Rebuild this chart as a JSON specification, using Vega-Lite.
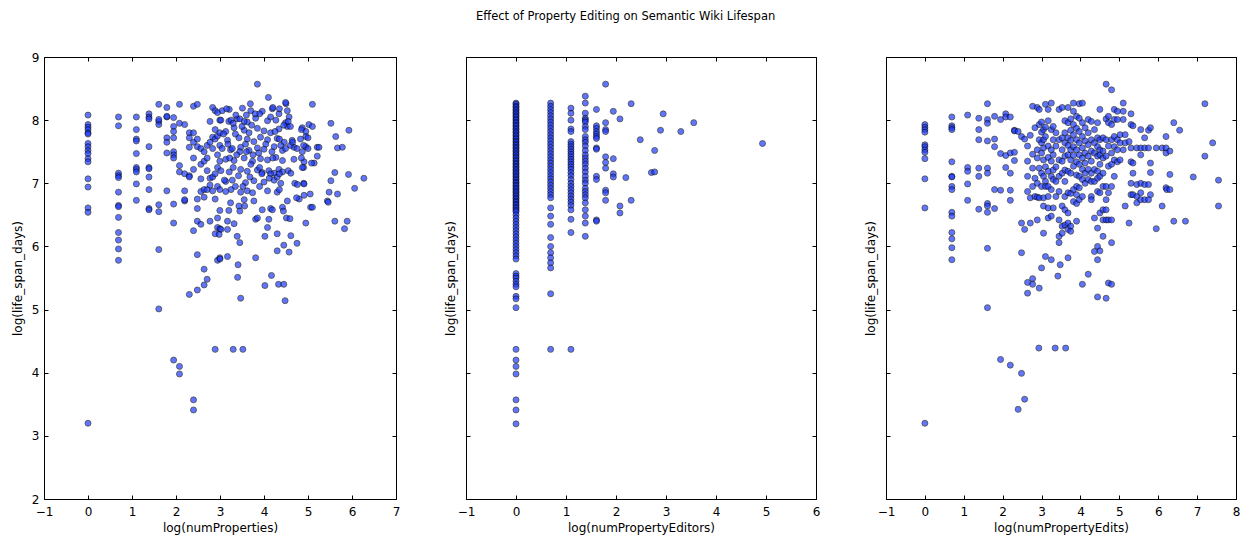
{
  "$schema": "https://vega.github.io/schema/vega-lite/v6.json",
  "background": "white",
  "padding": {"left": 10, "top": 11, "right": 8, "bottom": 5},
  "title": {"text": "Effect of Property Editing on Semantic Wiki Lifespan", "font": "DejaVu Sans", "fontSize": 11.5, "fontWeight": "normal", "color": "#000", "anchor": "middle", "offset": 28},
  "config": {
    "view": {"stroke": "#000", "strokeWidth": 1},
    "axis": {"labelFont": "DejaVu Sans", "labelFontSize": 12, "labelColor": "#000", "titleFont": "DejaVu Sans", "titleFontSize": 12, "titleFontWeight": "normal", "titleColor": "#000", "domain": false, "grid": false, "tickColor": "#000", "tickSize": -4, "tickWidth": 1, "labelPadding": 9, "labelFlush": false, "labelOverlap": false, "labelBound": false},
    "axisX": {"labelPadding": 11}
  },
  "datasets": {
    "p1": [
      {"x":0,"y":8.08},{"x":0,"y":7.93},{"x":0,"y":7.89},{"x":0,"y":7.85},{"x":0,"y":7.8},{"x":0,"y":7.78},{"x":0,"y":7.63},{"x":0,"y":7.58},{"x":0,"y":7.52},{"x":0,"y":7.47},{"x":0,"y":7.39},{"x":0,"y":7.34},{"x":0,"y":7.07},{"x":0,"y":6.94},{"x":0,"y":6.61},{"x":0,"y":6.54},{"x":0,"y":3.2},
      {"x":0.693,"y":8.05},{"x":0.693,"y":7.91},{"x":0.693,"y":7.16},{"x":0.693,"y":7.12},{"x":0.693,"y":7.09},{"x":0.693,"y":6.86},{"x":0.693,"y":6.65},{"x":0.693,"y":6.63},{"x":0.693,"y":6.46},{"x":0.693,"y":6.22},{"x":0.693,"y":6.1},{"x":0.693,"y":5.96},{"x":0.693,"y":5.78},
      {"x":1.099,"y":8.05},{"x":1.099,"y":7.85},{"x":1.099,"y":7.7},{"x":1.099,"y":7.67},{"x":1.099,"y":7.47},{"x":1.099,"y":7.25},{"x":1.099,"y":7.22},{"x":1.099,"y":7.18},{"x":1.099,"y":6.99},{"x":1.099,"y":6.73},
      {"x":1.386,"y":8.1},{"x":1.386,"y":8.05},{"x":1.386,"y":8.02},{"x":1.386,"y":7.58},{"x":1.386,"y":7.25},{"x":1.386,"y":7.23},{"x":1.386,"y":7.1},{"x":1.386,"y":6.9},{"x":1.386,"y":6.6},{"x":1.386,"y":6.58},
      {"x":1.609,"y":8.25},{"x":1.609,"y":7.98},{"x":1.609,"y":7.93},{"x":1.609,"y":8.01},{"x":1.609,"y":6.66},{"x":1.609,"y":6.55},{"x":1.609,"y":5.95},{"x":1.609,"y":5.01},
      {"x":1.792,"y":8.2},{"x":1.792,"y":8.05},{"x":1.792,"y":8.06},{"x":1.792,"y":7.72},{"x":1.792,"y":7.65},{"x":1.792,"y":7.48},{"x":1.792,"y":6.88},
      {"x":1.946,"y":8.04},{"x":1.946,"y":7.9},{"x":1.946,"y":7.82},{"x":1.946,"y":7.72},{"x":1.946,"y":7.5},{"x":1.946,"y":7.45},{"x":1.946,"y":7.4},{"x":1.946,"y":6.67},{"x":1.946,"y":6.37},{"x":1.946,"y":4.2},
      {"x":2.079,"y":8.25},{"x":2.079,"y":7.95},{"x":2.079,"y":7.28},{"x":2.079,"y":7.18},{"x":2.079,"y":4.1},{"x":2.079,"y":3.98},
      {"x":2.197,"y":7.93},{"x":2.197,"y":7.15},{"x":2.197,"y":6.88},{"x":2.197,"y":6.72},{"x":2.197,"y":6.74},
      {"x":2.303,"y":7.8},{"x":2.303,"y":7.72},{"x":2.303,"y":7.57},{"x":2.303,"y":7.12},{"x":2.303,"y":7.1},{"x":2.303,"y":5.24},
      {"x":2.398,"y":8.22},{"x":2.398,"y":7.8},{"x":2.398,"y":7.65},{"x":2.398,"y":7.4},{"x":2.398,"y":7.22},{"x":2.398,"y":6.25},{"x":2.398,"y":3.57},{"x":2.398,"y":3.41},
      {"x":2.485,"y":8.25},{"x":2.485,"y":7.7},{"x":2.485,"y":7.58},{"x":2.485,"y":6.75},{"x":2.485,"y":6.6},{"x":2.485,"y":6.4},{"x":2.485,"y":5.87},{"x":2.485,"y":5.31},
      {"x":2.565,"y":7.55},{"x":2.565,"y":7.3},{"x":2.565,"y":7.07},{"x":2.565,"y":6.87},{"x":2.565,"y":6.35},
      {"x":2.639,"y":7.5},{"x":2.639,"y":7.35},{"x":2.639,"y":6.9},{"x":2.639,"y":6.78},{"x":2.639,"y":5.64},{"x":2.639,"y":5.39},
      {"x":2.708,"y":7.6},{"x":2.708,"y":7.4},{"x":2.708,"y":7.2},{"x":2.708,"y":6.9},{"x":2.708,"y":5.48},
      {"x":2.773,"y":7.98},{"x":2.773,"y":7.65},{"x":2.773,"y":7.08},{"x":2.773,"y":6.97},{"x":2.773,"y":6.4},
      {"x":2.833,"y":8.2},{"x":2.833,"y":7.73},{"x":2.833,"y":7.55},{"x":2.833,"y":7.1},{"x":2.833,"y":6.88},
      {"x":2.89,"y":8.15},{"x":2.89,"y":7.85},{"x":2.89,"y":7.7},{"x":2.89,"y":7.15},{"x":2.89,"y":6.75},{"x":2.89,"y":6.2},{"x":2.89,"y":4.37},
      {"x":2.944,"y":8.12},{"x":2.944,"y":7.75},{"x":2.944,"y":7.45},{"x":2.944,"y":7.25},{"x":2.944,"y":6.95},{"x":2.944,"y":6.45},{"x":2.944,"y":6.3},{"x":2.944,"y":5.78},
      {"x":2.996,"y":8.0},{"x":2.996,"y":7.8},{"x":2.996,"y":7.6},{"x":2.996,"y":7.35},{"x":2.996,"y":6.9},{"x":2.996,"y":6.57},{"x":2.996,"y":6.28},{"x":2.996,"y":5.82},
      {"x":3.05,"y":8.15},{"x":3.21,"y":8.17},{"x":3.51,"y":8.19},{"x":3.7,"y":8.15},{"x":3.96,"y":8.14},{"x":4.19,"y":8.18},{"x":4.34,"y":8.1},{"x":4.53,"y":8.15},
      {"x":3.02,"y":8.0},{"x":3.2,"y":7.98},{"x":3.39,"y":8.02},{"x":3.62,"y":7.97},{"x":3.81,"y":8.03},{"x":4.08,"y":7.99},{"x":4.27,"y":8.0},{"x":4.49,"y":7.96},{"x":4.57,"y":8.05},{"x":4.87,"y":7.88},{"x":5.02,"y":7.93},
      {"x":3.13,"y":7.82},{"x":3.32,"y":7.88},{"x":3.55,"y":7.84},{"x":3.66,"y":7.8},{"x":3.85,"y":7.87},{"x":4.0,"y":7.83},{"x":4.15,"y":7.8},{"x":4.34,"y":7.86},{"x":4.53,"y":7.9},{"x":4.95,"y":7.82},
      {"x":3.17,"y":7.68},{"x":3.43,"y":7.72},{"x":3.62,"y":7.7},{"x":3.77,"y":7.66},{"x":3.92,"y":7.73},{"x":4.08,"y":7.69},{"x":4.3,"y":7.71},{"x":4.46,"y":7.65},{"x":4.64,"y":7.68},{"x":4.83,"y":7.7},{"x":4.95,"y":7.74},{"x":5.21,"y":7.57},
      {"x":3.05,"y":7.55},{"x":3.24,"y":7.53},{"x":3.47,"y":7.57},{"x":3.66,"y":7.52},{"x":3.85,"y":7.56},{"x":4.0,"y":7.54},{"x":4.23,"y":7.58},{"x":4.42,"y":7.52},{"x":4.49,"y":7.55},{"x":4.68,"y":7.57},{"x":4.87,"y":7.5},{"x":4.95,"y":7.58},
      {"x":3.13,"y":7.38},{"x":3.32,"y":7.36},{"x":3.55,"y":7.4},{"x":3.74,"y":7.35},{"x":3.92,"y":7.39},{"x":4.08,"y":7.37},{"x":4.27,"y":7.41},{"x":4.42,"y":7.36},{"x":4.68,"y":7.38},{"x":4.91,"y":7.34},{"x":5.14,"y":7.32},
      {"x":3.02,"y":7.2},{"x":3.21,"y":7.18},{"x":3.47,"y":7.22},{"x":3.62,"y":7.19},{"x":3.85,"y":7.21},{"x":3.96,"y":7.17},{"x":4.11,"y":7.2},{"x":4.23,"y":7.16},{"x":4.34,"y":7.22},{"x":4.42,"y":7.18},
      {"x":3.13,"y":7.03},{"x":3.28,"y":7.05},{"x":3.58,"y":7.01},{"x":3.77,"y":7.04},{"x":4.0,"y":7.02},{"x":4.23,"y":7.05},{"x":4.38,"y":7.0},
      {"x":3.13,"y":6.87},{"x":3.47,"y":6.86},{"x":3.62,"y":6.88},{"x":3.74,"y":6.85},{"x":4.08,"y":6.88},{"x":4.3,"y":6.86},
      {"x":3.15,"y":8.18},{"x":3.25,"y":8.0},{"x":3.3,"y":7.95},{"x":3.35,"y":7.78},{"x":3.28,"y":7.55},{"x":3.22,"y":7.4},{"x":3.1,"y":7.05},{"x":3.25,"y":6.9},{"x":3.35,"y":6.95},{"x":3.45,"y":7.5},{"x":3.5,"y":7.9},{"x":3.45,"y":8.02},{"x":3.55,"y":7.98},{"x":3.6,"y":7.5},{"x":3.7,"y":7.3},{"x":3.75,"y":7.45},{"x":3.9,"y":7.25},{"x":3.95,"y":7.15},{"x":3.9,"y":8.1},{"x":3.8,"y":8.1},{"x":4.15,"y":8.05},{"x":4.2,"y":8.2},{"x":4.25,"y":7.82},{"x":4.2,"y":7.4},{"x":4.35,"y":7.7},{"x":4.15,"y":7.15},{"x":4.3,"y":7.1},{"x":4.35,"y":7.15},{"x":4.15,"y":6.6},{"x":4.35,"y":6.9},{"x":4.3,"y":6.2},{"x":4.55,"y":7.2},{"x":4.6,"y":7.6},{"x":4.65,"y":7.65},{"x":4.45,"y":7.92},{"x":4.5,"y":8.26},{"x":4.55,"y":7.98},{"x":4.35,"y":8.18},{"x":4.6,"y":7.9},{"x":4.7,"y":7.0},{"x":4.8,"y":6.75},{"x":4.9,"y":7.0},{"x":4.75,"y":7.55},{"x":4.85,"y":7.4},{"x":4.9,"y":7.25},{"x":5.0,"y":7.55},{"x":4.9,"y":7.6},
      {"x":3.08,"y":7.78},{"x":3.18,"y":7.62},{"x":3.38,"y":7.45},{"x":3.58,"y":7.62},{"x":3.72,"y":7.92},{"x":3.88,"y":7.48},{"x":4.04,"y":7.62},{"x":4.18,"y":7.5},{"x":4.38,"y":7.6},{"x":3.42,"y":7.12},{"x":3.68,"y":7.1},{"x":3.3,"y":7.25},{"x":3.52,"y":6.95},{"x":3.9,"y":6.95},{"x":4.12,"y":7.08},{"x":3.36,"y":8.08},{"x":3.6,"y":8.08},
      {"x":3.85,"y":8.57},{"x":4.1,"y":8.36},{"x":4.49,"y":8.28},{"x":5.1,"y":8.25},{"x":3.69,"y":8.26},{"x":5.52,"y":7.95},{"x":5.93,"y":7.84},{"x":5.63,"y":7.74},{"x":5.67,"y":7.56},{"x":5.78,"y":7.57},{"x":5.21,"y":7.43},{"x":5.08,"y":7.32},{"x":4.87,"y":7.25},{"x":4.61,"y":7.16},{"x":5.61,"y":7.17},{"x":5.92,"y":7.14},{"x":6.27,"y":7.08},{"x":5.52,"y":7.04},{"x":6.06,"y":6.92},{"x":5.48,"y":6.86},{"x":5.67,"y":6.83},{"x":5.44,"y":6.72},{"x":5.46,"y":6.7},{"x":5.06,"y":6.62},{"x":5.1,"y":6.62},{"x":4.76,"y":6.98},{"x":4.91,"y":6.99},{"x":4.74,"y":6.77},{"x":4.91,"y":6.81},{"x":5.05,"y":6.83},{"x":4.53,"y":6.72},{"x":4.42,"y":6.62},{"x":4.44,"y":6.56},{"x":4.51,"y":6.45},{"x":4.59,"y":6.44},{"x":4.95,"y":6.37},{"x":5.61,"y":6.4},{"x":5.89,"y":6.4},{"x":5.83,"y":6.28},{"x":4.61,"y":6.17},{"x":4.45,"y":6.02},{"x":4.3,"y":5.93},{"x":4.57,"y":5.91},{"x":3.81,"y":5.82},{"x":4.02,"y":6.16},{"x":4.08,"y":6.3},{"x":3.81,"y":6.43},{"x":3.85,"y":6.45},{"x":4.11,"y":6.43},{"x":3.96,"y":6.58},{"x":4.19,"y":6.58},{"x":3.55,"y":6.74},{"x":3.77,"y":6.72},{"x":3.56,"y":6.64},{"x":3.24,"y":6.69},{"x":3.43,"y":6.64},{"x":3.2,"y":6.57},{"x":3.45,"y":6.56},{"x":3.17,"y":6.4},{"x":3.32,"y":6.36},{"x":3.02,"y":6.27},{"x":3.17,"y":6.27},{"x":2.98,"y":6.19},{"x":3.39,"y":6.16},{"x":3.45,"y":6.06},{"x":3.17,"y":5.84},{"x":3.0,"y":5.8},{"x":3.3,"y":4.37},{"x":3.41,"y":5.71},{"x":3.4,"y":5.51},{"x":3.47,"y":5.18},{"x":3.52,"y":4.37},{"x":4.02,"y":5.38},{"x":4.17,"y":5.54},{"x":4.33,"y":5.4},{"x":4.45,"y":5.4},{"x":4.48,"y":5.14},{"x":4.75,"y":6.05},{"x":5.1,"y":7.9},{"x":5.0,"y":7.72},{"x":4.85,"y":7.85},{"x":5.25,"y":7.57}
    ],
    "p2": [
      {"x":0,"y":8.27},{"x":0,"y":8.25},{"x":0,"y":8.22},{"x":0,"y":8.2},{"x":0,"y":8.17},{"x":0,"y":8.15},{"x":0,"y":8.12},{"x":0,"y":8.1},{"x":0,"y":8.07},{"x":0,"y":8.05},{"x":0,"y":8.02},{"x":0,"y":8.0},{"x":0,"y":7.97},{"x":0,"y":7.95},{"x":0,"y":7.92},{"x":0,"y":7.9},{"x":0,"y":7.87},{"x":0,"y":7.85},{"x":0,"y":7.82},{"x":0,"y":7.8},{"x":0,"y":7.77},{"x":0,"y":7.75},{"x":0,"y":7.72},{"x":0,"y":7.7},{"x":0,"y":7.67},{"x":0,"y":7.65},{"x":0,"y":7.62},{"x":0,"y":7.6},{"x":0,"y":7.57},{"x":0,"y":7.55},{"x":0,"y":7.52},{"x":0,"y":7.5},{"x":0,"y":7.47},{"x":0,"y":7.45},{"x":0,"y":7.42},{"x":0,"y":7.4},{"x":0,"y":7.37},{"x":0,"y":7.35},{"x":0,"y":7.32},{"x":0,"y":7.3},{"x":0,"y":7.27},{"x":0,"y":7.25},{"x":0,"y":7.22},{"x":0,"y":7.2},{"x":0,"y":7.17},{"x":0,"y":7.15},{"x":0,"y":7.12},{"x":0,"y":7.1},{"x":0,"y":7.07},{"x":0,"y":7.05},{"x":0,"y":7.02},{"x":0,"y":7.0},{"x":0,"y":6.97},{"x":0,"y":6.95},{"x":0,"y":6.92},{"x":0,"y":6.9},{"x":0,"y":6.87},{"x":0,"y":6.85},{"x":0,"y":6.82},{"x":0,"y":6.8},{"x":0,"y":6.77},{"x":0,"y":6.75},{"x":0,"y":6.72},{"x":0,"y":6.7},{"x":0,"y":6.67},{"x":0,"y":6.65},{"x":0,"y":6.62},{"x":0,"y":6.6},{"x":0,"y":6.57},{"x":0,"y":6.55},{"x":0,"y":6.5},{"x":0,"y":6.45},{"x":0,"y":6.4},{"x":0,"y":6.35},{"x":0,"y":6.3},{"x":0,"y":6.25},{"x":0,"y":6.2},{"x":0,"y":6.15},{"x":0,"y":6.1},{"x":0,"y":6.05},{"x":0,"y":6.0},{"x":0,"y":5.95},{"x":0,"y":5.9},{"x":0,"y":5.85},{"x":0,"y":5.8},{"x":0,"y":5.57},{"x":0,"y":5.53},{"x":0,"y":5.5},{"x":0,"y":5.45},{"x":0,"y":5.4},{"x":0,"y":5.36},{"x":0,"y":5.21},{"x":0,"y":5.17},{"x":0,"y":5.03},{"x":0,"y":4.37},{"x":0,"y":4.2},{"x":0,"y":4.1},{"x":0,"y":3.98},{"x":0,"y":3.57},{"x":0,"y":3.41},{"x":0,"y":3.19},
      {"x":0.693,"y":8.27},{"x":0.693,"y":8.22},{"x":0.693,"y":8.17},{"x":0.693,"y":8.12},{"x":0.693,"y":8.07},{"x":0.693,"y":8.02},{"x":0.693,"y":7.97},{"x":0.693,"y":7.92},{"x":0.693,"y":7.87},{"x":0.693,"y":7.82},{"x":0.693,"y":7.77},{"x":0.693,"y":7.72},{"x":0.693,"y":7.67},{"x":0.693,"y":7.62},{"x":0.693,"y":7.57},{"x":0.693,"y":7.52},{"x":0.693,"y":7.47},{"x":0.693,"y":7.42},{"x":0.693,"y":7.37},{"x":0.693,"y":7.32},{"x":0.693,"y":7.27},{"x":0.693,"y":7.22},{"x":0.693,"y":7.17},{"x":0.693,"y":7.12},{"x":0.693,"y":7.07},{"x":0.693,"y":7.02},{"x":0.693,"y":6.97},{"x":0.693,"y":6.92},{"x":0.693,"y":6.87},{"x":0.693,"y":6.82},{"x":0.693,"y":6.77},{"x":0.693,"y":6.61},{"x":0.693,"y":6.48},{"x":0.693,"y":6.35},{"x":0.693,"y":6.14},{"x":0.693,"y":6.0},{"x":0.693,"y":5.9},{"x":0.693,"y":5.82},{"x":0.693,"y":5.74},{"x":0.693,"y":5.66},{"x":0.693,"y":5.25},{"x":0.693,"y":4.37},
      {"x":1.099,"y":8.19},{"x":1.099,"y":8.11},{"x":1.099,"y":8.0},{"x":1.099,"y":7.86},{"x":1.099,"y":7.82},{"x":1.099,"y":7.66},{"x":1.099,"y":7.62},{"x":1.099,"y":7.58},{"x":1.099,"y":7.54},{"x":1.099,"y":7.5},{"x":1.099,"y":7.46},{"x":1.099,"y":7.42},{"x":1.099,"y":7.38},{"x":1.099,"y":7.34},{"x":1.099,"y":7.3},{"x":1.099,"y":7.26},{"x":1.099,"y":7.22},{"x":1.099,"y":7.17},{"x":1.099,"y":7.12},{"x":1.099,"y":7.06},{"x":1.099,"y":7.0},{"x":1.099,"y":6.95},{"x":1.099,"y":6.9},{"x":1.099,"y":6.85},{"x":1.099,"y":6.8},{"x":1.099,"y":6.75},{"x":1.099,"y":6.7},{"x":1.099,"y":6.65},{"x":1.099,"y":6.58},{"x":1.099,"y":6.43},{"x":1.099,"y":6.22},{"x":1.099,"y":4.37},
      {"x":1.386,"y":8.38},{"x":1.386,"y":8.27},{"x":1.386,"y":8.11},{"x":1.386,"y":8.03},{"x":1.386,"y":8.0},{"x":1.386,"y":7.97},{"x":1.386,"y":7.9},{"x":1.386,"y":7.85},{"x":1.386,"y":7.74},{"x":1.386,"y":7.69},{"x":1.386,"y":7.65},{"x":1.386,"y":7.59},{"x":1.386,"y":7.52},{"x":1.386,"y":7.45},{"x":1.386,"y":7.4},{"x":1.386,"y":7.35},{"x":1.386,"y":7.3},{"x":1.386,"y":7.24},{"x":1.386,"y":7.18},{"x":1.386,"y":7.11},{"x":1.386,"y":7.05},{"x":1.386,"y":7.0},{"x":1.386,"y":6.92},{"x":1.386,"y":6.87},{"x":1.386,"y":6.82},{"x":1.386,"y":6.77},{"x":1.386,"y":6.69},{"x":1.386,"y":6.58},{"x":1.386,"y":6.48},{"x":1.386,"y":6.37},{"x":1.386,"y":6.16},
      {"x":1.609,"y":8.17},{"x":1.609,"y":7.91},{"x":1.609,"y":7.87},{"x":1.609,"y":7.82},{"x":1.609,"y":7.78},{"x":1.609,"y":7.74},{"x":1.609,"y":7.71},{"x":1.609,"y":7.56},{"x":1.609,"y":7.54},{"x":1.609,"y":7.11},{"x":1.609,"y":7.06},{"x":1.609,"y":6.42},{"x":1.609,"y":6.4},
      {"x":1.792,"y":8.57},{"x":1.792,"y":7.96},{"x":1.792,"y":7.85},{"x":1.792,"y":7.82},{"x":1.792,"y":7.42},{"x":1.792,"y":7.33},{"x":1.792,"y":7.24},{"x":1.792,"y":6.89},{"x":1.792,"y":6.85},{"x":1.792,"y":6.73},
      {"x":1.946,"y":8.14},{"x":1.946,"y":7.39},{"x":1.946,"y":7.15},{"x":1.946,"y":7.1},
      {"x":2.079,"y":8.02},{"x":2.079,"y":6.64},{"x":2.079,"y":6.53},
      {"x":2.197,"y":7.09},{"x":2.303,"y":8.26},{"x":2.303,"y":6.73},{"x":2.485,"y":7.69},{"x":2.708,"y":7.17},{"x":2.773,"y":7.52},{"x":2.773,"y":7.18},{"x":2.89,"y":7.84},{"x":2.944,"y":8.1},{"x":3.296,"y":7.82},{"x":3.555,"y":7.96},{"x":4.93,"y":7.63}
    ],
    "p3": [
      {"x":0,"y":7.93},{"x":0,"y":7.89},{"x":0,"y":7.85},{"x":0,"y":7.81},{"x":0,"y":7.61},{"x":0,"y":7.58},{"x":0,"y":7.53},{"x":0,"y":7.49},{"x":0,"y":7.39},{"x":0,"y":7.07},{"x":0,"y":6.61},{"x":0,"y":3.2},
      {"x":0.693,"y":8.05},{"x":0.693,"y":7.91},{"x":0.693,"y":7.88},{"x":0.693,"y":7.85},{"x":0.693,"y":7.34},{"x":0.693,"y":7.11},{"x":0.693,"y":7.1},{"x":0.693,"y":6.95},{"x":0.693,"y":6.9},{"x":0.693,"y":6.54},{"x":0.693,"y":6.48},{"x":0.693,"y":6.22},{"x":0.693,"y":6.12},{"x":0.693,"y":5.98},{"x":0.693,"y":5.79},
      {"x":1.099,"y":8.08},{"x":1.099,"y":7.25},{"x":1.099,"y":7.19},{"x":1.099,"y":6.99},{"x":1.099,"y":6.73},
      {"x":1.386,"y":8.03},{"x":1.386,"y":7.85},{"x":1.386,"y":7.69},{"x":1.386,"y":7.24},{"x":1.386,"y":7.11},{"x":1.386,"y":6.59},
      {"x":1.609,"y":8.26},{"x":1.609,"y":8.01},{"x":1.609,"y":7.95},{"x":1.609,"y":7.67},{"x":1.609,"y":7.24},{"x":1.609,"y":7.16},{"x":1.609,"y":6.68},{"x":1.609,"y":6.64},{"x":1.609,"y":6.54},{"x":1.609,"y":5.97},{"x":1.609,"y":5.03},
      {"x":1.792,"y":8.06},{"x":1.792,"y":7.7},{"x":1.792,"y":7.58},{"x":1.792,"y":6.9},{"x":1.792,"y":6.6},
      {"x":1.946,"y":8.01},{"x":1.946,"y":7.47},{"x":1.946,"y":6.89},{"x":1.946,"y":4.21},
      {"x":2.079,"y":8.1},{"x":2.079,"y":8.05},{"x":2.079,"y":7.44},{"x":2.079,"y":7.25},
      {"x":2.197,"y":8.05},{"x":2.197,"y":7.48},{"x":2.197,"y":7.16},{"x":2.197,"y":6.89},{"x":2.197,"y":6.73},{"x":2.197,"y":4.12},
      {"x":2.303,"y":7.84},{"x":2.303,"y":7.83},{"x":2.303,"y":7.49},{"x":2.303,"y":7.36},
      {"x":2.398,"y":7.82},{"x":2.398,"y":3.42},
      {"x":2.485,"y":7.74},{"x":2.485,"y":6.37},{"x":2.485,"y":5.9},{"x":2.485,"y":3.99},
      {"x":2.565,"y":7.7},{"x":2.565,"y":6.27},{"x":2.565,"y":3.58},
      {"x":2.64,"y":7.59},{"x":2.64,"y":7.35},{"x":2.64,"y":7.11},{"x":2.64,"y":6.87},{"x":2.64,"y":5.43},{"x":2.64,"y":5.26},
      {"x":2.71,"y":7.76},{"x":2.71,"y":6.77},{"x":2.71,"y":6.37},
      {"x":2.77,"y":8.22},{"x":2.77,"y":7.46},{"x":2.77,"y":7.24},{"x":2.77,"y":6.95},{"x":2.77,"y":5.49},{"x":2.77,"y":5.4},
      {"x":2.83,"y":7.88},{"x":2.83,"y":7.08},{"x":2.83,"y":6.79},
      {"x":2.89,"y":8.2},{"x":2.89,"y":7.53},{"x":2.89,"y":7.4},{"x":2.89,"y":7.0},{"x":2.89,"y":6.78},{"x":2.89,"y":6.42},{"x":2.93,"y":4.39},
      {"x":2.94,"y":8.17},{"x":2.94,"y":7.93},{"x":2.94,"y":7.69},{"x":2.94,"y":7.24},{"x":2.94,"y":6.77},{"x":2.94,"y":5.34},
      {"x":3.0,"y":7.97},{"x":3.0,"y":7.81},{"x":3.0,"y":7.64},{"x":3.0,"y":7.48},{"x":3.0,"y":7.16},{"x":3.0,"y":6.95},{"x":3.0,"y":5.66},
      {"x":3.05,"y":7.85},{"x":3.05,"y":7.69},{"x":3.05,"y":7.56},{"x":3.05,"y":7.37},{"x":3.05,"y":7.11},{"x":3.05,"y":6.77},{"x":3.05,"y":6.64},{"x":3.05,"y":6.21},
      {"x":3.1,"y":8.25},{"x":3.1,"y":7.89},{"x":3.1,"y":7.74},{"x":3.1,"y":7.26},{"x":3.1,"y":7.03},{"x":3.1,"y":6.95},{"x":3.1,"y":5.84},
      {"x":3.17,"y":8.17},{"x":3.17,"y":7.99},{"x":3.17,"y":7.59},{"x":3.17,"y":7.41},{"x":3.17,"y":7.19},{"x":3.17,"y":6.95},{"x":3.17,"y":6.79},{"x":3.17,"y":6.61},{"x":3.17,"y":6.45},
      {"x":3.25,"y":8.27},{"x":3.25,"y":7.85},{"x":3.25,"y":7.53},{"x":3.25,"y":7.35},{"x":3.25,"y":7.11},{"x":3.25,"y":6.9},{"x":3.25,"y":6.48},{"x":3.25,"y":5.79},
      {"x":3.3,"y":7.9},{"x":3.3,"y":7.69},{"x":3.3,"y":7.45},{"x":3.3,"y":7.21},{"x":3.3,"y":7.06},{"x":3.3,"y":6.61},{"x":3.35,"y":4.39},
      {"x":3.37,"y":7.8},{"x":3.37,"y":7.59},{"x":3.37,"y":7.26},{"x":3.37,"y":7.03},{"x":3.37,"y":6.79},{"x":3.42,"y":5.53},
      {"x":3.45,"y":8.17},{"x":3.45,"y":7.69},{"x":3.45,"y":7.37},{"x":3.45,"y":7.11},{"x":3.45,"y":6.87},{"x":3.45,"y":6.42},{"x":3.45,"y":6.16},{"x":3.45,"y":6.06},{"x":3.48,"y":5.71},
      {"x":3.53,"y":8.2},{"x":3.53,"y":7.72},{"x":3.53,"y":7.53},{"x":3.53,"y":7.35},{"x":3.53,"y":7.16},{"x":3.53,"y":6.64},{"x":3.53,"y":6.32},{"x":3.53,"y":6.21},
      {"x":3.6,"y":7.99},{"x":3.6,"y":7.8},{"x":3.6,"y":7.64},{"x":3.6,"y":7.43},{"x":3.6,"y":7.21},{"x":3.6,"y":7.03},{"x":3.6,"y":6.79},{"x":3.6,"y":6.58},{"x":3.6,"y":6.34},{"x":3.62,"y":4.39},
      {"x":3.68,"y":8.2},{"x":3.68,"y":7.96},{"x":3.68,"y":7.72},{"x":3.68,"y":7.6},{"x":3.68,"y":7.45},{"x":3.68,"y":7.19},{"x":3.68,"y":6.85},{"x":3.68,"y":6.53},{"x":3.68,"y":6.37},{"x":3.68,"y":6.27},{"x":3.68,"y":5.82},
      {"x":3.75,"y":8.02},{"x":3.75,"y":7.84},{"x":3.75,"y":7.68},{"x":3.75,"y":7.53},{"x":3.75,"y":7.37},{"x":3.75,"y":7.16},{"x":3.75,"y":6.84},{"x":3.75,"y":6.32},{"x":3.75,"y":6.24},
      {"x":3.82,"y":8.27},{"x":3.82,"y":8.14},{"x":3.82,"y":7.93},{"x":3.82,"y":7.77},{"x":3.82,"y":7.58},{"x":3.82,"y":7.44},{"x":3.82,"y":7.27},{"x":3.82,"y":6.9},{"x":3.82,"y":6.71},
      {"x":3.9,"y":8.06},{"x":3.9,"y":7.87},{"x":3.9,"y":7.69},{"x":3.9,"y":7.53},{"x":3.9,"y":7.34},{"x":3.9,"y":7.13},{"x":3.9,"y":6.95},{"x":3.9,"y":6.82},{"x":3.9,"y":6.68},{"x":3.9,"y":6.4},
      {"x":3.97,"y":8.26},{"x":3.97,"y":8.03},{"x":3.97,"y":7.82},{"x":3.97,"y":7.64},{"x":3.97,"y":7.45},{"x":3.97,"y":7.3},{"x":3.97,"y":7.11},{"x":3.97,"y":6.93},{"x":3.97,"y":6.74},
      {"x":4.05,"y":8.27},{"x":4.05,"y":7.96},{"x":4.05,"y":7.74},{"x":4.05,"y":7.56},{"x":4.05,"y":7.4},{"x":4.05,"y":7.22},{"x":4.05,"y":7.06},{"x":4.05,"y":6.79},{"x":4.05,"y":5.4},
      {"x":4.12,"y":7.88},{"x":4.12,"y":7.67},{"x":4.12,"y":7.48},{"x":4.12,"y":7.32},{"x":4.12,"y":7.16},{"x":4.12,"y":7.0},
      {"x":4.2,"y":8.01},{"x":4.2,"y":7.8},{"x":4.2,"y":7.61},{"x":4.2,"y":7.43},{"x":4.2,"y":7.22},{"x":4.2,"y":7.06},{"x":4.2,"y":5.56},
      {"x":4.28,"y":7.98},{"x":4.28,"y":7.69},{"x":4.28,"y":7.51},{"x":4.28,"y":7.35},{"x":4.28,"y":7.16},{"x":4.28,"y":7.03},{"x":4.28,"y":6.79},{"x":4.28,"y":6.74},
      {"x":4.36,"y":7.85},{"x":4.36,"y":7.64},{"x":4.36,"y":7.48},{"x":4.36,"y":7.22},{"x":4.36,"y":7.03},{"x":4.36,"y":6.45},{"x":4.36,"y":5.92},
      {"x":4.44,"y":7.96},{"x":4.44,"y":7.72},{"x":4.44,"y":7.58},{"x":4.44,"y":7.43},{"x":4.44,"y":7.19},{"x":4.44,"y":7.08},{"x":4.44,"y":6.87},{"x":4.44,"y":6.29},{"x":4.44,"y":6.0},{"x":4.44,"y":5.79},{"x":4.44,"y":5.2},
      {"x":4.5,"y":8.17},{"x":4.5,"y":7.69},{"x":4.5,"y":7.53},{"x":4.5,"y":7.45},{"x":4.5,"y":7.3},{"x":4.5,"y":7.11},{"x":4.5,"y":6.85},{"x":4.5,"y":6.53},{"x":4.5,"y":5.93},
      {"x":4.58,"y":7.72},{"x":4.58,"y":7.51},{"x":4.58,"y":7.4},{"x":4.58,"y":7.16},{"x":4.58,"y":6.95},{"x":4.58,"y":6.58},{"x":4.58,"y":6.42},{"x":4.58,"y":6.16},
      {"x":4.66,"y":8.57},{"x":4.66,"y":8.02},{"x":4.66,"y":7.69},{"x":4.66,"y":7.43},{"x":4.66,"y":6.95},{"x":4.66,"y":6.74},{"x":4.66,"y":6.58},{"x":4.66,"y":6.42},{"x":4.66,"y":5.18},
      {"x":4.72,"y":8.06},{"x":4.72,"y":7.96},{"x":4.72,"y":7.59},{"x":4.72,"y":7.27},{"x":4.72,"y":6.85},{"x":4.72,"y":6.42},{"x":4.72,"y":5.42},
      {"x":4.8,"y":8.48},{"x":4.8,"y":7.93},{"x":4.8,"y":7.69},{"x":4.8,"y":7.48},{"x":4.8,"y":7.3},{"x":4.8,"y":6.95},{"x":4.8,"y":6.42},{"x":4.8,"y":6.06},{"x":4.8,"y":5.4},
      {"x":4.87,"y":8.17},{"x":4.87,"y":8.01},{"x":4.87,"y":7.74},{"x":4.87,"y":7.58},{"x":4.87,"y":7.37},{"x":4.87,"y":7.11},
      {"x":4.95,"y":8.14},{"x":4.95,"y":8.01},{"x":4.95,"y":7.69},{"x":4.95,"y":7.53},{"x":4.95,"y":7.34},
      {"x":5.02,"y":7.77},{"x":5.02,"y":7.64},{"x":5.02,"y":7.37},
      {"x":5.1,"y":8.27},{"x":5.1,"y":8.14},{"x":5.1,"y":8.01},{"x":5.1,"y":7.53},
      {"x":5.15,"y":7.77},{"x":5.15,"y":7.64},{"x":5.15,"y":6.64},
      {"x":5.25,"y":7.66},{"x":5.25,"y":6.37},
      {"x":5.3,"y":8.1},{"x":5.3,"y":7.93},{"x":5.3,"y":7.56},{"x":5.3,"y":7.34},{"x":5.3,"y":7.0},{"x":5.3,"y":6.82},
      {"x":5.35,"y":7.91},{"x":5.35,"y":7.32},{"x":5.35,"y":7.16},{"x":5.35,"y":6.82},
      {"x":5.45,"y":7.56},{"x":5.45,"y":6.98},{"x":5.45,"y":6.79},{"x":5.45,"y":6.69},
      {"x":5.55,"y":7.85},{"x":5.55,"y":7.56},{"x":5.55,"y":7.45},{"x":5.55,"y":7.0},{"x":5.55,"y":6.85},{"x":5.55,"y":6.74},
      {"x":5.65,"y":7.72},{"x":5.65,"y":7.56},{"x":5.65,"y":6.98},{"x":5.65,"y":6.74},
      {"x":5.75,"y":7.84},{"x":5.75,"y":7.56},{"x":5.75,"y":6.98},{"x":5.75,"y":6.74},
      {"x":5.8,"y":7.88},{"x":5.8,"y":7.32},{"x":5.8,"y":7.17},{"x":5.8,"y":6.82},
      {"x":5.95,"y":7.56},{"x":5.95,"y":6.28},{"x":6.1,"y":7.56},{"x":6.1,"y":6.64},
      {"x":6.2,"y":7.74},{"x":6.2,"y":7.56},{"x":6.2,"y":7.48},{"x":6.2,"y":6.93},{"x":6.22,"y":6.9},
      {"x":6.3,"y":7.51},{"x":6.3,"y":7.14},{"x":6.3,"y":6.9},
      {"x":6.4,"y":7.96},{"x":6.4,"y":6.4},{"x":6.55,"y":7.84},{"x":6.7,"y":6.4},{"x":6.9,"y":7.1},{"x":7.2,"y":8.26},{"x":7.2,"y":7.43},{"x":7.4,"y":7.64},{"x":7.55,"y":7.05},{"x":7.55,"y":6.64}
    ]
  },
  "hconcat": [
    {
      "width": 352, "height": 442,
      "data": {"name": "p1"},
      "layer": [
        {"mark": {"type": "circle", "fill": "#1e3cff", "stroke": "#000", "strokeWidth": 0.8, "opacity": 0.7, "size": 36},
         "encoding": {
           "x": {"field": "x", "type": "quantitative", "scale": {"domain": [-1, 7], "nice": false, "zero": false}, "axis": {"title": "log(numProperties)", "values": [-1,0,1,2,3,4,5,6,7], "titlePadding": 5}},
           "y": {"field": "y", "type": "quantitative", "scale": {"domain": [2, 9], "nice": false, "zero": false}, "axis": {"title": "log(life_span_days)", "values": [2,3,4,5,6,7,8,9], "titlePadding": 7}}
         }},
        {"mark": {"type": "circle", "opacity": 0},
         "encoding": {
           "x": {"field": "x", "type": "quantitative", "axis": {"orient": "top", "labels": false, "title": null, "values": [-1,0,1,2,3,4,5,6,7]}},
           "y": {"field": "y", "type": "quantitative", "axis": {"orient": "right", "labels": false, "title": null, "values": [2,3,4,5,6,7,8,9]}}
         }}
      ],
      "resolve": {"axis": {"x": "independent", "y": "independent"}}
    },
    {
      "width": 350, "height": 442,
      "data": {"name": "p2"},
      "layer": [
        {"mark": {"type": "circle", "fill": "#1e3cff", "stroke": "#000", "strokeWidth": 0.8, "opacity": 0.7, "size": 36},
         "encoding": {
           "x": {"field": "x", "type": "quantitative", "scale": {"domain": [-1, 6], "nice": false, "zero": false}, "axis": {"title": "log(numPropertyEditors)", "values": [-1,0,1,2,3,4,5,6], "titlePadding": 5}},
           "y": {"field": "y", "type": "quantitative", "scale": {"domain": [2, 9], "nice": false, "zero": false}, "axis": {"title": "log(life_span_days)", "labels": false, "values": [2,3,4,5,6,7,8,9], "titlePadding": 8}}
         }},
        {"mark": {"type": "circle", "opacity": 0},
         "encoding": {
           "x": {"field": "x", "type": "quantitative", "axis": {"orient": "top", "labels": false, "title": null, "values": [-1,0,1,2,3,4,5,6]}},
           "y": {"field": "y", "type": "quantitative", "axis": {"orient": "right", "labels": false, "title": null, "values": [2,3,4,5,6,7,8,9]}}
         }}
      ],
      "resolve": {"axis": {"x": "independent", "y": "independent"}}
    },
    {
      "width": 350, "height": 442,
      "data": {"name": "p3"},
      "layer": [
        {"mark": {"type": "circle", "fill": "#1e3cff", "stroke": "#000", "strokeWidth": 0.8, "opacity": 0.7, "size": 36},
         "encoding": {
           "x": {"field": "x", "type": "quantitative", "scale": {"domain": [-1, 8], "nice": false, "zero": false}, "axis": {"title": "log(numPropertyEdits)", "values": [-1,0,1,2,3,4,5,6,7,8], "titlePadding": 5}},
           "y": {"field": "y", "type": "quantitative", "scale": {"domain": [2, 9], "nice": false, "zero": false}, "axis": {"title": "log(life_span_days)", "labels": false, "values": [2,3,4,5,6,7,8,9], "titlePadding": 8}}
         }},
        {"mark": {"type": "circle", "opacity": 0},
         "encoding": {
           "x": {"field": "x", "type": "quantitative", "axis": {"orient": "top", "labels": false, "title": null, "values": [-1,0,1,2,3,4,5,6,7,8]}},
           "y": {"field": "y", "type": "quantitative", "axis": {"orient": "right", "labels": false, "title": null, "values": [2,3,4,5,6,7,8,9]}}
         }}
      ],
      "resolve": {"axis": {"x": "independent", "y": "independent"}}
    }
  ],
  "spacing": 70,
  "bounds": "flush"
}
